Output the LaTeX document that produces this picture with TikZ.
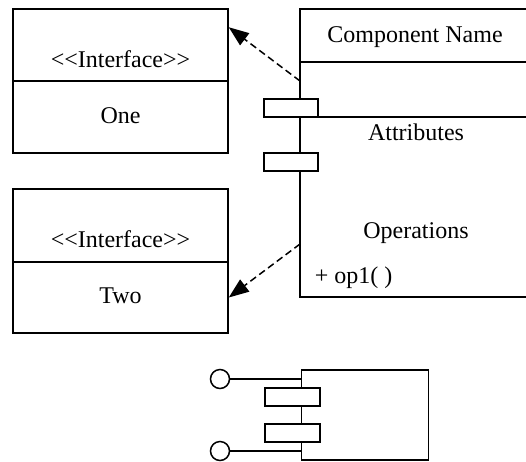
\documentclass[tikz,border=0pt]{standalone}
\usepackage{fontspec}
\setmainfont{Liberation Serif}
\usetikzlibrary{arrows.meta}
\begin{document}
\begin{tikzpicture}[x=1pt,y=-1pt,line width=1.5pt,
  compart/.style={draw,inner sep=0pt,minimum width=215pt},
  port/.style={draw,fill=white,inner sep=0pt,minimum width=54pt,minimum height=18pt},
  lbl/.style={anchor=base,inner sep=0pt,font=\fontsize{24}{28}\selectfont},
  dep/.style={dash pattern=on 7pt off 4pt,-{Triangle[length=20pt,width=15pt]}},
  lolly/.style={circle,draw,fill=white,inner sep=0pt,minimum size=19pt}]
\useasboundingbox (0,0) rectangle (526,461);
% Interface One
\node[compart,minimum height=72pt] (oneTop) at (120.5,45) {};
\node[compart,minimum height=72pt] (oneBot) at (120.5,117) {};
\node[lbl] (oneSt) at (120.5,67) {<\kern0pt<Interface>\kern0pt>};
\node[lbl] (oneNm) at (120.5,123) {One};
% Interface Two
\node[compart,minimum height=73pt] (twoTop) at (120.5,225.5) {};
\node[compart,minimum height=71pt] (twoBot) at (120.5,297.5) {};
\node[lbl] (twoSt) at (120.5,247) {<\kern0pt<Interface>\kern0pt>};
\node[lbl] (twoNm) at (120.5,303) {Two};
% Component
\coordinate (cTL) at (300,9);
\coordinate (cTR) at (526,9);
\coordinate (cBL) at (300,297);
\coordinate (cBR) at (526,297);
\draw (cTR) -- (cTL) -- (cBL) -- (cBR);
\draw (300,62) -- (526,62);
\draw (318,117) -- (526,117);
\node[port] (p1) at (291,108) {};
\node[port] (p2) at (291,162) {};
\node[lbl] (cName) at (415,42) {Component Name};
\node[lbl] (cAttr) at (416,140) {Attributes};
\node[lbl] (cOps) at (416,238) {Operations};
\node[lbl,anchor=base west] (cOp1) at (314,283) {+ op1( )};
% dependencies
\coordinate (s1) at (300,81);
\coordinate (s2) at (300,244);
\draw[dep] (s1) -- ([yshift=-19pt]oneTop.north east);
\draw[dep] (s2) -- (twoBot.east);
% small component icon
\node[draw,fill=white,inner sep=0pt,minimum width=126.6pt,minimum height=90pt] (icon) at (365,415) {};
\node[port,minimum width=55pt] (ip1) at (292.5,397) {};
\node[port,minimum width=55pt] (ip2) at (292.5,433) {};
\node[lolly] (o1) at (220,379) {};
\node[lolly] (o2) at (220,451) {};
\draw (o1) -- (o1 -| icon.west);
\draw (o2) -- (o2 -| icon.west);
\end{tikzpicture}
\end{document}
